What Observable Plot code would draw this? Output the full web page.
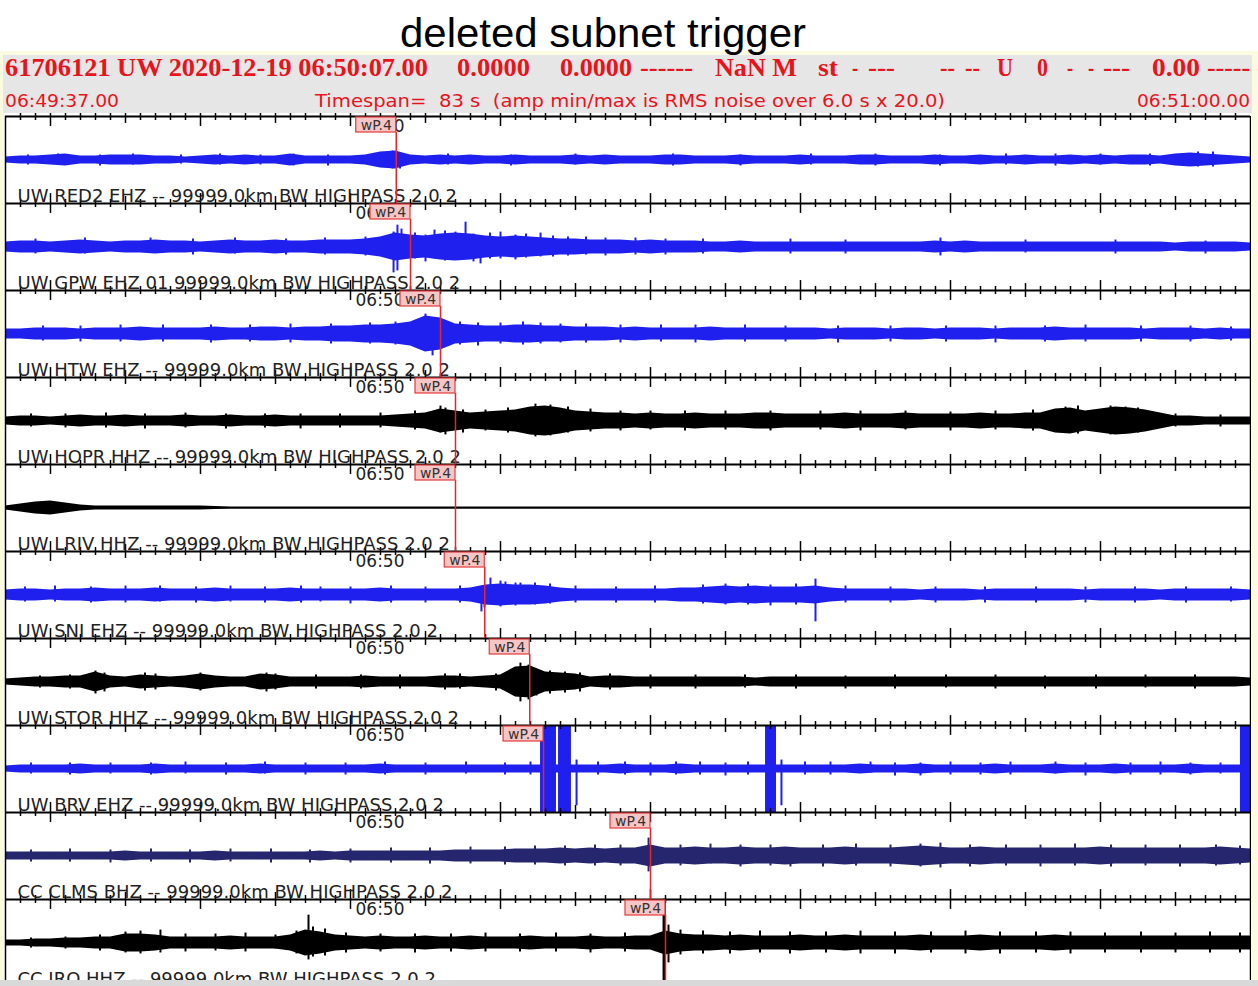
<!DOCTYPE html>
<html><head><meta charset="utf-8">
<script src="https://cdn.jsdelivr.net/npm/d3@7"></script>
<script src="https://cdn.jsdelivr.net/npm/@observablehq/plot@0.6"></script>
<style>
html,body{margin:0;padding:0;background:#fff;}
body{width:1258px;height:986px;overflow:hidden;position:relative;}
#frame{position:absolute;left:0;top:51px;width:1258px;height:935px;background:#fbfbe2;}
#plot{position:absolute;left:0;top:113px;}
#head{position:absolute;left:0;top:0;}
.edge{position:absolute;background:#fbfbe2;}
#bottom{position:absolute;left:0;top:980px;width:1258px;height:6px;background:#d9d9d9;}
</style></head><body>
<div id="frame"></div>
<div id="plot"></div>
<svg id="head" width="1258" height="113">
  <rect x="0" y="51" width="1258" height="62" fill="#fbfbe2"/>
  <rect x="3" y="55" width="1249" height="58" fill="#e6e6e6"/>
  <text x="400" y="47" font-family="Liberation Sans" font-size="40" textLength="406" lengthAdjust="spacingAndGlyphs" fill="#000">deleted subnet trigger</text>
  <g font-family="Liberation Serif" font-weight="bold" font-size="26" fill="#e8141c">
    <text x="5" y="76" textLength="423" lengthAdjust="spacingAndGlyphs">61706121 UW 2020-12-19 06:50:07.00</text>
    <text x="457" y="76" textLength="73" lengthAdjust="spacingAndGlyphs">0.0000</text>
    <text x="560" y="76" textLength="72" lengthAdjust="spacingAndGlyphs">0.0000</text>
    <text x="640" y="76" textLength="53" lengthAdjust="spacingAndGlyphs">------</text>
    <text x="715" y="76" textLength="82" lengthAdjust="spacingAndGlyphs">NaN M</text>
    <text x="818" y="76" textLength="20" lengthAdjust="spacingAndGlyphs">st</text>
    <text x="852" y="76" textLength="6" lengthAdjust="spacingAndGlyphs">-</text>
    <text x="868" y="76" textLength="27" lengthAdjust="spacingAndGlyphs">---</text>
    <text x="940" y="76" textLength="15" lengthAdjust="spacingAndGlyphs">--</text>
    <text x="965" y="76" textLength="15" lengthAdjust="spacingAndGlyphs">--</text>
    <text x="997" y="76" textLength="16" lengthAdjust="spacingAndGlyphs">U</text>
    <text x="1037" y="76" textLength="11" lengthAdjust="spacingAndGlyphs">0</text>
    <text x="1067" y="76" textLength="6" lengthAdjust="spacingAndGlyphs">-</text>
    <text x="1088" y="76" textLength="6" lengthAdjust="spacingAndGlyphs">-</text>
    <text x="1103" y="76" textLength="27" lengthAdjust="spacingAndGlyphs">---</text>
    <text x="1152" y="76" textLength="48" lengthAdjust="spacingAndGlyphs">0.00</text>
    <text x="1207" y="76" textLength="43" lengthAdjust="spacingAndGlyphs">-----</text>
  </g>
  <g font-family="DejaVu Sans" font-size="17" fill="#e8141c">
    <text x="5" y="107" textLength="114" lengthAdjust="spacingAndGlyphs">06:49:37.00</text>
    <text x="315" y="107" textLength="630" lengthAdjust="spacingAndGlyphs" style="white-space:pre">Timespan=  83 s  (amp min/max is RMS noise over 6.0 s x 20.0)</text>
    <text x="1137" y="107" textLength="113" lengthAdjust="spacingAndGlyphs">06:51:00.00</text>
  </g>
</svg>
<div class="edge" style="left:0;top:113px;width:4px;height:873px"></div>
<div class="edge" style="left:1251px;top:113px;width:7px;height:873px"></div>
<div id="bottom"></div>
<script>
// ---- data ----
const stations = [
  "UW RED2 EHZ -- 99999.0km BW HIGHPASS 2.0 2",
  "UW GPW EHZ 01 99999.0km BW HIGHPASS 2.0 2",
  "UW HTW EHZ -- 99999.0km BW HIGHPASS 2.0 2",
  "UW HOPR HHZ -- 99999.0km BW HIGHPASS 2.0 2",
  "UW LRIV HHZ -- 99999.0km BW HIGHPASS 2.0 2",
  "UW SNI EHZ -- 99999.0km BW HIGHPASS 2.0 2",
  "UW STOR HHZ -- 99999.0km BW HIGHPASS 2.0 2",
  "UW BRV EHZ -- 99999.0km BW HIGHPASS 2.0 2",
  "CC CLMS BHZ -- 99999.0km BW HIGHPASS 2.0 2",
  "CC JRO HHZ -- 99999.0km BW HIGHPASS 2.0 2"
];
// seconds after 06:49:37.00 of each wP.4 pick
const pickSeconds = [26.05, 27.0, 29.0, 30.0, 30.0, 31.95, 34.95, 35.87, 43.0, 44.0];
const pickLabel = "wP.4";
const minuteLabel = "06:50";
const minuteSecond = 23; // 06:50:00 is 23 s after the start
const spanSeconds = 83;
const startSecond = 37;

// envelope half-amplitude per second (t = 0..83), picture pixels
const envRED2 = [3,4,4,5,6,4,4,5,5,5, 4,4,3,4,5,4,5,4,4,6, 4,4,4,4,5,8,9,5,4,5, 4,5,4,4,5,4,4,4,5,4, 5,4,4,4,5,5,4,4,4,5, 4,4,4,5,4,4,4,5,5,4, 4,4,5,4,4,5,4,4,5,4, 4,5,4,5,4,5,5,4,6,7, 6,5,4,3];
const envGPW = [5,6,6,5,6,7,6,5,6,6, 7,6,6,5,6,7,6,6,7,6, 6,7,7,7,8,10,14,12,11,13, 14,13,11,10,11,10,9,8,8,7, 7,7,6,7,6,6,6,5,5,6, 5,5,5,5,5,5,5,5,5,5, 5,5,6,5,6,5,5,5,5,5, 5,5,5,5,5,5,5,5,4,5, 5,5,5,4];
const envHTW = [5,5,6,6,6,5,6,6,6,7, 6,6,6,6,7,6,6,7,7,6, 7,7,8,8,9,9,10,12,18,16, 10,9,8,8,9,9,8,8,7,7, 7,6,7,6,6,6,6,7,6,6, 6,6,6,6,6,5,6,6,6,5, 6,6,5,6,6,6,5,6,6,6, 7,6,6,6,6,6,5,6,6,6, 5,6,5,5];
const envHOPR = [4,5,5,4,5,6,5,5,6,5, 5,5,6,5,5,6,5,5,6,5, 5,5,5,5,5,5,6,7,8,12, 10,8,9,10,11,14,15,13,10,9, 8,8,7,8,7,7,8,7,7,7, 8,8,7,7,7,7,8,7,7,7, 8,7,7,7,7,8,7,7,8,8, 12,13,10,12,14,13,11,8,5,5, 4,4,4,4];
const envLRIV = [2,4,6,7,5,3,2,2,2,2, 2,2,2,2,1.5,1,1,1,1,1, 1,1,1,1,1,1,1,1,1,1, 1,1,1,1,1,1,1,1,1,1, 1,1,1,1,1,1,1,1,1,1, 1,1,1,1,1,1,1,1,1,1, 1,1,1,1,1,1,1,1,1,1, 1,1,1,1,1,1,1,1,1,1, 1,1,1,1];
const envSNI = [5,6,6,5,6,6,7,6,6,6, 7,6,6,6,7,6,6,6,6,7, 6,6,6,6,6,7,6,6,6,6, 6,7,10,11,10,10,9,7,6,6, 6,6,6,6,6,7,7,8,9,8, 9,8,8,8,9,7,6,6,6,6, 6,5,6,6,6,5,6,6,6,6, 6,6,5,6,6,6,6,5,6,6, 6,6,6,5];
const envSTOR = [3,4,5,5,6,6,10,6,5,7, 6,5,6,8,6,5,5,8,7,5, 5,5,5,5,6,5,5,5,5,6, 6,5,6,7,15,16,10,9,8,5, 6,6,5,5,5,5,5,5,5,5, 4,5,5,5,5,5,5,5,5,5, 5,5,5,5,5,5,5,5,5,5, 5,5,5,5,5,5,5,5,5,5, 5,5,5,4];
const envBRV = [3,4,4,4,4,5,4,4,4,4, 5,4,4,4,4,4,4,5,4,4, 4,4,4,4,4,5,4,4,4,4, 4,4,4,4,4,4,4,4,4,4, 4,5,4,4,4,5,4,4,4,4, 4,4,4,4,4,4,4,5,4,4, 4,5,4,4,4,4,5,4,4,4, 5,4,4,4,5,4,4,4,4,5, 4,4,4,4];
const envCLMS = [4,4,4,4,4,4,4,4,5,4, 4,4,4,4,5,4,4,4,4,4, 4,5,4,5,5,5,5,5,5,5, 6,6,6,6,7,7,7,8,7,8, 7,8,8,11,8,8,9,8,8,9, 8,8,9,8,8,8,9,8,8,8, 9,10,9,8,8,9,8,8,8,8, 8,8,8,9,8,8,8,8,8,8, 8,9,8,7];
const envJRO = [3,3,4,4,5,5,6,6,9,9, 8,6,6,6,6,7,6,6,6,8, 13,11,8,7,6,7,6,6,7,6, 6,7,6,6,6,7,6,6,6,7, 6,6,7,7,12,9,8,8,7,8, 7,7,7,8,7,7,8,7,7,7, 7,8,7,7,7,8,7,7,7,7, 8,7,7,7,7,7,7,7,7,7, 7,7,7,7];

// individual peaks [second, up px, down px]
const spkRED2 = [[1.5,5,5],[3.5,6,5],[6.3,5,6],[8.5,6,5],[11.7,5,4],[14.3,6,5],[17.0,5,5],[19.2,6,6],[21.5,5,6],[25.8,9,9],[26.3,7,9],[29.5,6,5],[33.7,5,6],[38.0,6,5],[44.5,6,6],[49.0,5,6],[53.7,6,5],[58.0,6,6],[62.3,5,6],[66.7,6,5],[70.0,6,6],[73.0,6,5],[76.3,6,6],[79.5,8,7],[80.5,8,7]];
const spkGPW = [[2.0,8,7],[5.3,9,7],[9.67,9,6],[12.5,8,8],[15.3,9,7],[18.7,8,8],[21.3,9,8],[24.0,10,9],[25.87,15,26],[26.13,22,24],[26.4,18,10],[27.3,14,12],[28.0,12,15],[28.6,17,12],[29.3,16,14],[30.0,15,13],[30.67,25,10],[31.2,13,15],[31.67,10,17],[32.3,14,12],[33.0,15,12],[34.0,12,13],[34.7,13,11],[35.67,14,10],[36.5,11,10],[37.5,10,9],[38.7,10,8],[40.0,9,9],[42.0,9,8],[44.0,8,8],[46.5,8,7],[52.33,8,7],[56.0,7,7],[62.33,9,9],[68.0,7,6],[74.0,7,7],[80.0,6,7]];
const spkHTW = [[2.5,8,7],[5.0,8,8],[7.67,9,8],[10.5,9,8],[13.7,9,9],[16.3,9,8],[19.0,10,9],[21.7,10,10],[24.3,11,10],[26.0,12,11],[28.0,20,15],[28.47,15,22],[29.0,12,14],[30.3,12,11],[31.5,11,12],[33.0,11,10],[34.5,12,11],[35.67,11,10],[37.0,10,9],[38.7,10,9],[41.0,9,9],[43.7,9,8],[46.0,9,9],[49.3,9,8],[52.0,8,8],[55.5,8,9],[59.0,8,8],[62.7,8,8],[66.0,8,9],[69.3,8,8],[72.0,9,8],[75.7,8,8],[79.0,8,8],[81.7,7,7]];
const spkHOPR = [[1.7,7,6],[4.0,7,7],[6.7,8,7],[9.3,7,8],[12.0,8,7],[14.7,7,8],[17.3,7,7],[19.67,7,8],[22.3,7,7],[25.0,8,7],[27.3,10,9],[29.0,15,12],[29.33,13,14],[30.5,11,12],[32.0,11,10],[33.5,13,12],[35.33,17,16],[36.33,16,15],[37.5,14,12],[39.0,12,11],[41.0,10,10],[43.0,10,9],[45.3,10,10],[48.0,10,9],[51.0,10,10],[54.33,10,9],[57.0,10,10],[60.0,10,9],[63.0,9,10],[66.0,10,9],[68.5,11,10],[70.67,14,12],[71.5,15,13],[73.67,15,14],[74.67,14,13],[75.5,13,12],[78.0,7,6],[81.0,6,6]];
const spkLRIV = [];
const spkSNI = [[1.3,8,7],[3.3,9,7],[5.7,8,8],[8.0,9,8],[10.3,9,7],[12.7,8,8],[15.0,9,7],[17.3,8,8],[19.7,9,8],[21.0,8,7],[23.0,8,9],[25.7,9,8],[28.0,8,8],[30.3,9,8],[31.73,6,17],[31.93,8,13],[32.33,17,8],[33.0,14,12],[33.33,13,10],[34.0,12,11],[34.33,12,9],[35.3,12,10],[36.3,11,9],[38.0,9,8],[40.7,8,8],[43.3,9,8],[46.5,10,9],[48.0,11,10],[49.5,11,10],[51.0,10,11],[52.7,11,10],[54.0,16,27],[56.0,9,8],[59.0,8,8],[62.0,8,8],[65.3,8,8],[68.7,8,8],[72.0,8,8],[75.3,8,8],[78.7,8,8],[81.7,8,7]];
const spkSTOR = [[2.3,6,6],[4.3,7,7],[6.0,11,12],[6.6,9,10],[9.3,9,9],[10.0,8,8],[13.0,9,9],[17.4,9,10],[18.0,8,8],[20.7,7,7],[23.7,7,7],[26.3,7,7],[29.3,8,8],[30.3,8,7],[32.7,8,9],[34.0,14,12],[34.33,19,20],[34.87,17,18],[35.4,12,14],[36.3,11,12],[37.3,10,11],[38.3,9,10],[40.3,8,8],[43.0,7,7],[46.0,7,7],[49.3,7,6],[52.7,7,7],[56.0,6,7],[59.3,7,7],[62.7,7,6],[66.0,7,7],[69.3,6,7],[72.7,7,7],[76.0,7,6],[79.3,7,7]];
const spkBRV = [[1.7,6,5],[4.3,6,6],[7.0,6,5],[9.7,6,6],[12.0,7,5],[14.7,6,6],[17.3,7,5],[20.0,6,6],[22.67,6,6],[25.3,7,6],[28.0,6,6],[30.7,7,5],[33.3,6,6],[35.0,7,6],[38.07,9,37],[39.5,7,6],[41.3,7,6],[43.0,6,7],[44.7,7,6],[46.3,7,6],[48.0,6,7],[49.5,7,6],[51.73,9,37],[53.3,7,6],[55.0,7,6],[57.67,7,4],[59.3,6,7],[61.0,6,7],[63.0,7,6],[65.0,6,6],[67.0,7,6],[70.0,7,5],[72.0,6,7],[75.0,6,6],[77.0,7,6],[79.0,6,6],[81.0,6,5]];
const spkCLMS = [[1.7,6,6],[4.3,7,6],[7.0,6,7],[9.7,7,6],[12.3,6,7],[15.0,7,6],[17.7,7,7],[20.3,6,7],[23.0,7,7],[25.7,8,7],[28.3,8,8],[31.0,9,8],[33.3,9,9],[35.3,10,9],[37.3,10,10],[39.3,11,10],[41.0,11,10],[42.87,18,16],[45.0,11,10],[47.0,12,8],[49.0,11,11],[51.0,11,10],[52.33,8,11],[54.5,11,11],[56.7,12,10],[59.0,11,11],[61.0,12,11],[62.33,13,12],[64.3,11,11],[66.7,11,10],[69.0,11,11],[71.3,12,10],[73.7,11,11],[76.0,11,10],[78.3,11,11],[80.7,11,10],[82.3,10,9]];
const spkJRO = [[1.7,5,5],[4.0,6,6],[6.3,8,8],[8.0,11,10],[9.0,12,11],[10.33,13,10],[12.0,9,9],[14.0,9,8],[16.0,10,9],[18.0,8,6],[19.4,12,11],[20.2,28,17],[20.5,16,14],[21.3,14,13],[22.7,10,10],[25.0,9,9],[27.3,9,10],[29.7,9,9],[32.0,10,9],[34.3,9,9],[36.7,10,9],[39.0,9,10],[41.3,10,9],[43.87,44,44],[43.95,44,44],[44.2,18,20],[45.0,13,12],[46.5,12,11],[48.3,11,11],[50.3,12,10],[52.3,11,11],[54.7,11,10],[57.0,12,11],[59.3,11,11],[61.7,11,10],[64.0,12,11],[66.3,11,11],[68.7,11,10],[71.0,11,11],[73.3,10,10],[75.7,11,10],[78.0,10,10],[80.3,11,10],[82.3,10,10]];

// clipped (saturated) stretches on BRV [from s, to s]
const clipBRV = [[35.67,36.73],[36.87,37.73],[50.67,51.4],[82.33,83]];

// ---- build ----
const BLUE = "#2020ee", BLACK = "#000000", NAVY = "#26266e";
const envs = [envRED2, envGPW, envHTW, envHOPR, envLRIV, envSNI, envSTOR, envBRV, envCLMS, envJRO];
const spks = [spkRED2, spkGPW, spkHTW, spkHOPR, spkLRIV, spkSNI, spkSTOR, spkBRV, spkCLMS, spkJRO];
const colors = [BLUE, BLUE, BLUE, BLACK, BLACK, BLUE, BLACK, BLUE, NAVY, BLACK];
const H = 43.75; // half of one trace band in y units (pixels)

const marks = [];
stations.forEach((s, i) => {
  const rows = envs[i].map((a, t) => ({s, t, a}));
  marks.push(Plot.areaY(rows, {x: "t", y1: d => -d.a, y2: "a", fy: "s", fill: colors[i], curve: "linear"}));
  marks.push(Plot.lineY(rows, {x: "t", y: 0, fy: "s", stroke: colors[i], strokeWidth: 1}));
  const sp = spks[i].map(([t, up, down]) => ({s, t, up, down}));
  marks.push(Plot.ruleX(sp, {x: "t", y1: d => -d.down, y2: "up", fy: "s", stroke: colors[i], strokeWidth: 2}));
});
const clipRows = clipBRV.map(([a, b]) => ({s: stations[7], a, b}));
marks.push(Plot.rect(clipRows, {x1: "a", x2: "b", y1: -H, y2: H, fy: "s", fill: BLUE}));

// separators and time ticks
const tickRows = d3.range(1, spanSeconds).map(t => {
  const sec = (startSecond + t) % 60;
  return {t, len: sec % 10 === 0 ? 10 : sec % 5 === 0 ? 7 : 4};
});
marks.push(Plot.ruleY([H], {stroke: "#000", strokeWidth: 2}));
marks.push(Plot.ruleX(tickRows, {x: "t", y1: d => H - d.len, y2: d => H + d.len, stroke: "#000", strokeWidth: 1.5}));
marks.push(Plot.ruleX([0, spanSeconds], {x: d => d, y1: -H, y2: H, stroke: "#000", strokeWidth: 1.5}));

// labels
marks.push(Plot.text(stations, {x: 0, y: -H, fy: d => d, text: d => d, dx: 12, dy: -2, lineAnchor: "bottom", textAnchor: "start", fontSize: 18, fontFamily: "DejaVu Sans", fill: "#222"}));
marks.push(Plot.text([minuteLabel], {x: minuteSecond, y: H, text: d => d, dx: 5, dy: 3, lineAnchor: "top", textAnchor: "start", fontSize: 17, fontFamily: "DejaVu Sans", fill: "#222"}));

// picks
const pickRows = stations.map((s, i) => ({s, t: pickSeconds[i]}));
marks.push(Plot.ruleX(pickRows, {x: "t", y1: H - 16, y2: -H, fy: "s", stroke: "#e8262a", strokeWidth: 1.5}));
marks.push(Plot.rect(pickRows, {x1: "t", x2: "t", y1: H, y2: H, fy: "s", insetLeft: -40, insetTop: 1, insetBottom: -16, fill: "#f6c6c6", stroke: "#e23b3b", strokeWidth: 1.2}));
marks.push(Plot.text(pickRows, {x: "t", y: H, fy: "s", text: () => pickLabel, dx: -20, dy: 9, fontSize: 14, fontFamily: "DejaVu Sans", fill: "#333"}));

const chart = Plot.plot({
  width: 1258, height: 875,
  marginLeft: 5, marginRight: 8, marginTop: 0, marginBottom: 0,
  x: {domain: [0, spanSeconds], axis: null},
  y: {domain: [-H, H], axis: null},
  fy: {domain: stations, padding: 0, axis: null},
  style: {background: "#ffffff", overflow: "visible"},
  marks
});
document.getElementById("plot").appendChild(chart);
</script>
</body></html>
